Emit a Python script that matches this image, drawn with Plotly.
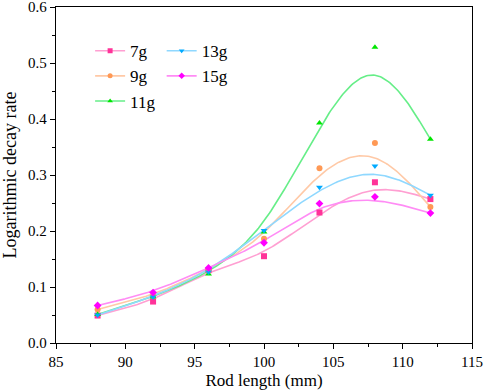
import numpy as np
import plotly.graph_objects as go

rod_length = [88, 92, 96, 100, 104, 108, 112]
rate_7g = [0.049, 0.074, 0.130, 0.155, 0.233, 0.287, 0.257]
rate_9g = [0.060, 0.084, 0.130, 0.186, 0.312, 0.357, 0.243]
rate_11g = [0.051, 0.082, 0.123, 0.198, 0.393, 0.528, 0.364]
rate_13g = [0.050, 0.082, 0.127, 0.201, 0.278, 0.316, 0.264]
rate_15g = [0.067, 0.090, 0.134, 0.179, 0.249, 0.261, 0.232]

x_ticks = [85, 90, 95, 100, 105, 110, 115]
y_ticks = [0.0, 0.1, 0.2, 0.3, 0.4, 0.5, 0.6]

series = [
    ("7g", rate_7g, "#ff3399", "#ff9fd2", "square", "legend"),
    ("9g", rate_9g, "#ff9955", "#ffc9a6", "circle", "legend"),
    ("11g", rate_11g, "#00e600", "#66ee88", "triangle-up", "legend"),
    ("13g", rate_13g, "#00aaff", "#8fd8ff", "triangle-down", "legend2"),
    ("15g", rate_15g, "#ff00ff", "#ff8cf5", "diamond", "legend2"),
]


def bspline(xs, ys, per_seg=40):
    # uniform cubic B-spline with tripled end points (passes through the ends)
    P = np.column_stack([xs, ys]).astype(float)
    P = np.vstack([P[0], P[0], P, P[-1], P[-1]])
    t = np.linspace(0, 1, per_seg, endpoint=False)
    b0 = (1 - t) ** 3 / 6
    b1 = (3 * t ** 3 - 6 * t ** 2 + 4) / 6
    b2 = (-3 * t ** 3 + 3 * t ** 2 + 3 * t + 1) / 6
    b3 = t ** 3 / 6
    pts = []
    for i in range(len(P) - 3):
        seg = (np.outer(b0, P[i]) + np.outer(b1, P[i + 1])
               + np.outer(b2, P[i + 2]) + np.outer(b3, P[i + 3]))
        pts.append(seg)
    pts.append(P[-1][None, :])
    pts = np.vstack(pts)
    return pts[:, 0], pts[:, 1]


data = []
for name, vals, mcol, lcol, sym, leg in series:
    cx, cy = bspline(rod_length, vals)
    data.append(go.Scatter(x=cx, y=cy, mode="lines", line=dict(color=lcol, width=1.6),
                           showlegend=False, hoverinfo="skip"))
for name, vals, mcol, lcol, sym, leg in series:
    data.append(go.Scatter(x=rod_length, y=vals, mode="markers", showlegend=False,
                           marker=dict(symbol=sym, size=6, color=mcol)))
    data.append(go.Scatter(x=[None], y=[None], mode="markers+lines", name=name,
                           line=dict(color=lcol, width=1.6),
                           marker=dict(symbol=sym, size=5, color=mcol), legend=leg))
fig = go.Figure(data=data)

font = "Liberation Serif, Times New Roman, serif"
axis_common = dict(showline=True, linecolor="black", linewidth=1.3, mirror=True,
                   ticks="outside", ticklen=5, tickcolor="black", tickwidth=1,
                   showgrid=False, zeroline=False, automargin=False,
                   ticklabeloverflow="allow",
                   tickfont=dict(family=font, size=15, color="black"))
fig.update_layout(
    width=484, height=390,
    margin=dict(l=56, r=12, t=7, b=47),
    paper_bgcolor="white", plot_bgcolor="white",
    font=dict(family=font, color="black"),
    xaxis=dict(range=[85, 115], tickmode="array", tickvals=x_ticks,
               ticktext=[str(v) for v in x_ticks],
               minor=dict(ticks="outside", ticklen=3, dtick=2.5, tickcolor="black"),
               title=dict(text="Rod length (mm)", font=dict(family=font, size=17), standoff=6),
               **axis_common),
    yaxis=dict(range=[0, 0.6], tickmode="array", tickvals=y_ticks,
               ticktext=[f"{v:.1f}" for v in y_ticks],
               minor=dict(ticks="outside", ticklen=3, dtick=0.05, tickcolor="black"),
               title=dict(text="Logarithmic decay rate", font=dict(family=font, size=18), standoff=11),
               **axis_common),
    legend=dict(x=0.082, y=0.922, xanchor="left", yanchor="top", bgcolor="rgba(0,0,0,0)",
                font=dict(family=font, size=17), tracegroupgap=0, itemwidth=30),
    legend2=dict(x=0.254, y=0.922, xanchor="left", yanchor="top", bgcolor="rgba(0,0,0,0)",
                 font=dict(family=font, size=17), tracegroupgap=0, itemwidth=30),
)
fig.write_html("out.html", config={"displayModeBar": False},
               post_script="document.body.style.margin='0px';")
